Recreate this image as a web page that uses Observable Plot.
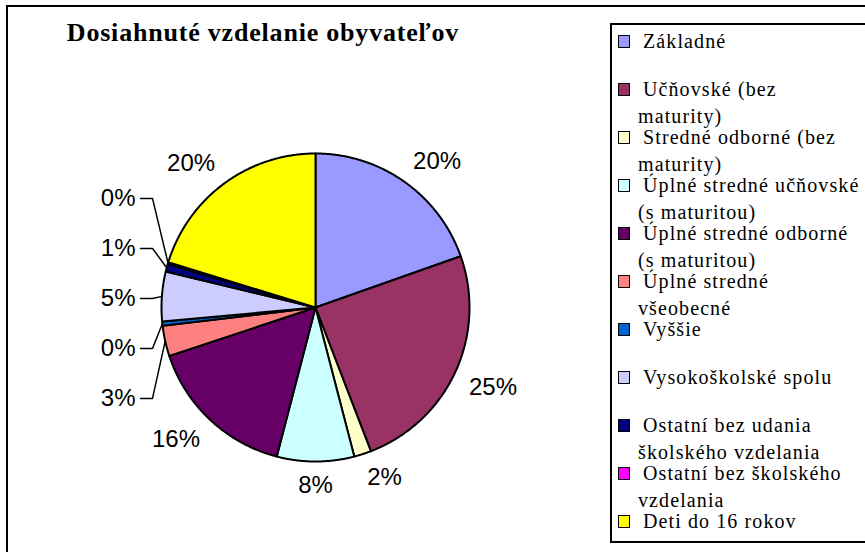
<!DOCTYPE html>
<html>
<head>
<meta charset="utf-8">
<script src="https://cdn.jsdelivr.net/npm/d3@7"></script>
<script src="https://cdn.jsdelivr.net/npm/@observablehq/plot@0.6"></script>
<style>
  html, body { margin: 0; padding: 0; background: #fff; overflow: hidden; }
  #wrap { position: relative; width: 865px; height: 552px; overflow: hidden; background: #fff; }
  #frame { position: absolute; left: 6px; top: 4.5px; width: 1000px; height: 700px; border: 2.5px solid #000; box-sizing: border-box; }
  #chart { position: absolute; left: 0; top: 0; }
  #title { position: absolute; left: 263px; top: 18px; transform: translateX(-50%); white-space: nowrap;
           font-family: "Liberation Serif", "Times New Roman", serif; font-weight: bold; font-size: 26px;
           line-height: 30px; letter-spacing: 0.8px; color: #000; }
  #legend { position: absolute; left: 609.5px; top: 22.7px; width: 500px; height: 520.5px; border: 2.3px solid #000; box-sizing: border-box; }
  .sw { position: absolute; width: 12.5px; height: 12.5px; border: 1.6px solid #000; box-sizing: border-box; }
  .lt { position: absolute; width: 226px; font-family: "Liberation Serif", "Times New Roman", serif; font-size: 20px;
        line-height: 27px; letter-spacing: 1.1px; text-indent: 5px; color: #000; }
</style>
</head>
<body>
<div id="wrap">
  <div id="frame"></div>
  <div id="chart"></div>
  <div id="title"></div>
  <div id="legend"></div>
</div>
<script>
const chartTitle = "Dosiahnuté vzdelanie obyvateľov";
const categories = [
  "Základné",
  "Učňovské (bez maturity)",
  "Stredné odborné (bez maturity)",
  "Úplné stredné učňovské (s maturitou)",
  "Úplné stredné odborné (s maturitou)",
  "Úplné stredné všeobecné",
  "Vyššie",
  "Vysokoškolské spolu",
  "Ostatní bez udania školského vzdelania",
  "Ostatní bez školského vzdelania",
  "Deti do 16 rokov"
];
const shares = [19.6, 24.55, 1.8, 8.1, 15.85, 3.2, 0.45, 5.2, 0.8, 0.2, 20.25];
const colors = ["#9999FF", "#993366", "#FFFFCC", "#CCFFFF", "#660066", "#FF8080", "#0066CC", "#CCCCFF", "#000080", "#FF00FF", "#FFFF00"];

// geometry (layout)
const R = 154, CX = 315, CY = 307;
const total = d3.sum(shares);
const arcs = d3.pie().sort(null).value(d => d)(shares);

// slice polygons in unit coordinates
const sliceRows = [];
arcs.forEach((a, i) => {
  const name = categories[i];
  const n = Math.max(2, Math.ceil((a.endAngle - a.startAngle) / 0.008));
  sliceRows.push({name, x: 0, y: 0});
  for (let k = 0; k <= n; k++) {
    const t = a.startAngle + (a.endAngle - a.startAngle) * k / n;
    sliceRows.push({name, x: Math.sin(t), y: Math.cos(t)});
  }
});

// labels
const pct = v => Math.round(v / total * 100) + "%";
const fs = 24;
const clamp = v => Math.max(-1, Math.min(1, v));
const labels = [];
const leaders = [];
const small = [];
arcs.forEach((a, i) => {
  const mid = (a.startAngle + a.endAngle) / 2;
  const text = pct(shares[i]);
  if (shares[i] / total < 0.06 && mid > Math.PI) {
    small.push({i, mid, text});
  } else {
    const digits = text.length - 1;
    const halfW = fs * (0.556 * digits + 0.889) / 2;
    const halfH = fs * 0.716 / 2;
    const dist = R + 15;
    const px = dist * Math.sin(mid) + halfW * clamp(Math.sin(mid) / 0.3);
    const py = dist * Math.cos(mid) + halfH * clamp(Math.cos(mid) / 0.3);
    labels.push({text, x: px / R, y: py / R, anchor: "middle"});
  }
});
small.sort((p, q) => p.mid - q.mid);
const meanY = d3.mean(small, s => Math.cos(s.mid));
const step = 50 / R;
small.forEach((s, k) => {
  const ly = meanY + (k - (small.length - 1) / 2) * step;
  labels.push({text: s.text, x: (135 - CX) / R, y: ly, anchor: "end"});
  const name = "L" + s.i;
  leaders.push({name, x: (140 - CX) / R, y: ly});
  leaders.push({name, x: (152 - CX) / R, y: ly});
  leaders.push({name, x: Math.sin(s.mid), y: Math.cos(s.mid)});
});

const plot = Plot.plot({
  width: 600,
  height: 552,
  margin: 0,
  style: {background: "transparent", overflow: "visible", fontFamily: "'Liberation Sans', Arial, sans-serif"},
  x: {domain: [-1, 1], range: [CX - R, CX + R], axis: null},
  y: {domain: [-1, 1], range: [CY + R, CY - R], axis: null},
  color: {domain: categories, range: colors},
  marks: [
    Plot.line(sliceRows, {x: "x", y: "y", z: "name", fill: "name", stroke: "#000", strokeWidth: 2, curve: "linear-closed", strokeLinejoin: "round"}),
    Plot.line(leaders, {x: "x", y: "y", z: "name", stroke: "#000", strokeWidth: 1.5, strokeLinejoin: "miter"}),
    Plot.text(labels.filter(d => d.anchor === "middle"), {x: "x", y: "y", text: "text", fontSize: fs, fill: "#000", textAnchor: "middle"}),
    Plot.text(labels.filter(d => d.anchor === "end"), {x: "x", y: "y", text: "text", fontSize: fs, fill: "#000", textAnchor: "end"})
  ]
});
document.getElementById("chart").appendChild(plot);
document.getElementById("title").textContent = chartTitle;

// legend
const color = plot.scale("color");
const wrap = document.getElementById("wrap");
categories.forEach((c, i) => {
  const sw = document.createElement("div");
  sw.className = "sw";
  sw.style.left = "617.5px";
  sw.style.top = (35 + 48 * i) + "px";
  sw.style.background = colors[color.domain.indexOf(c)];
  wrap.appendChild(sw);
  const t = document.createElement("div");
  t.className = "lt";
  t.style.left = "638px";
  t.style.top = (28 + 48 * i) + "px";
  t.textContent = c;
  wrap.appendChild(t);
});
</script>
</body>
</html>
